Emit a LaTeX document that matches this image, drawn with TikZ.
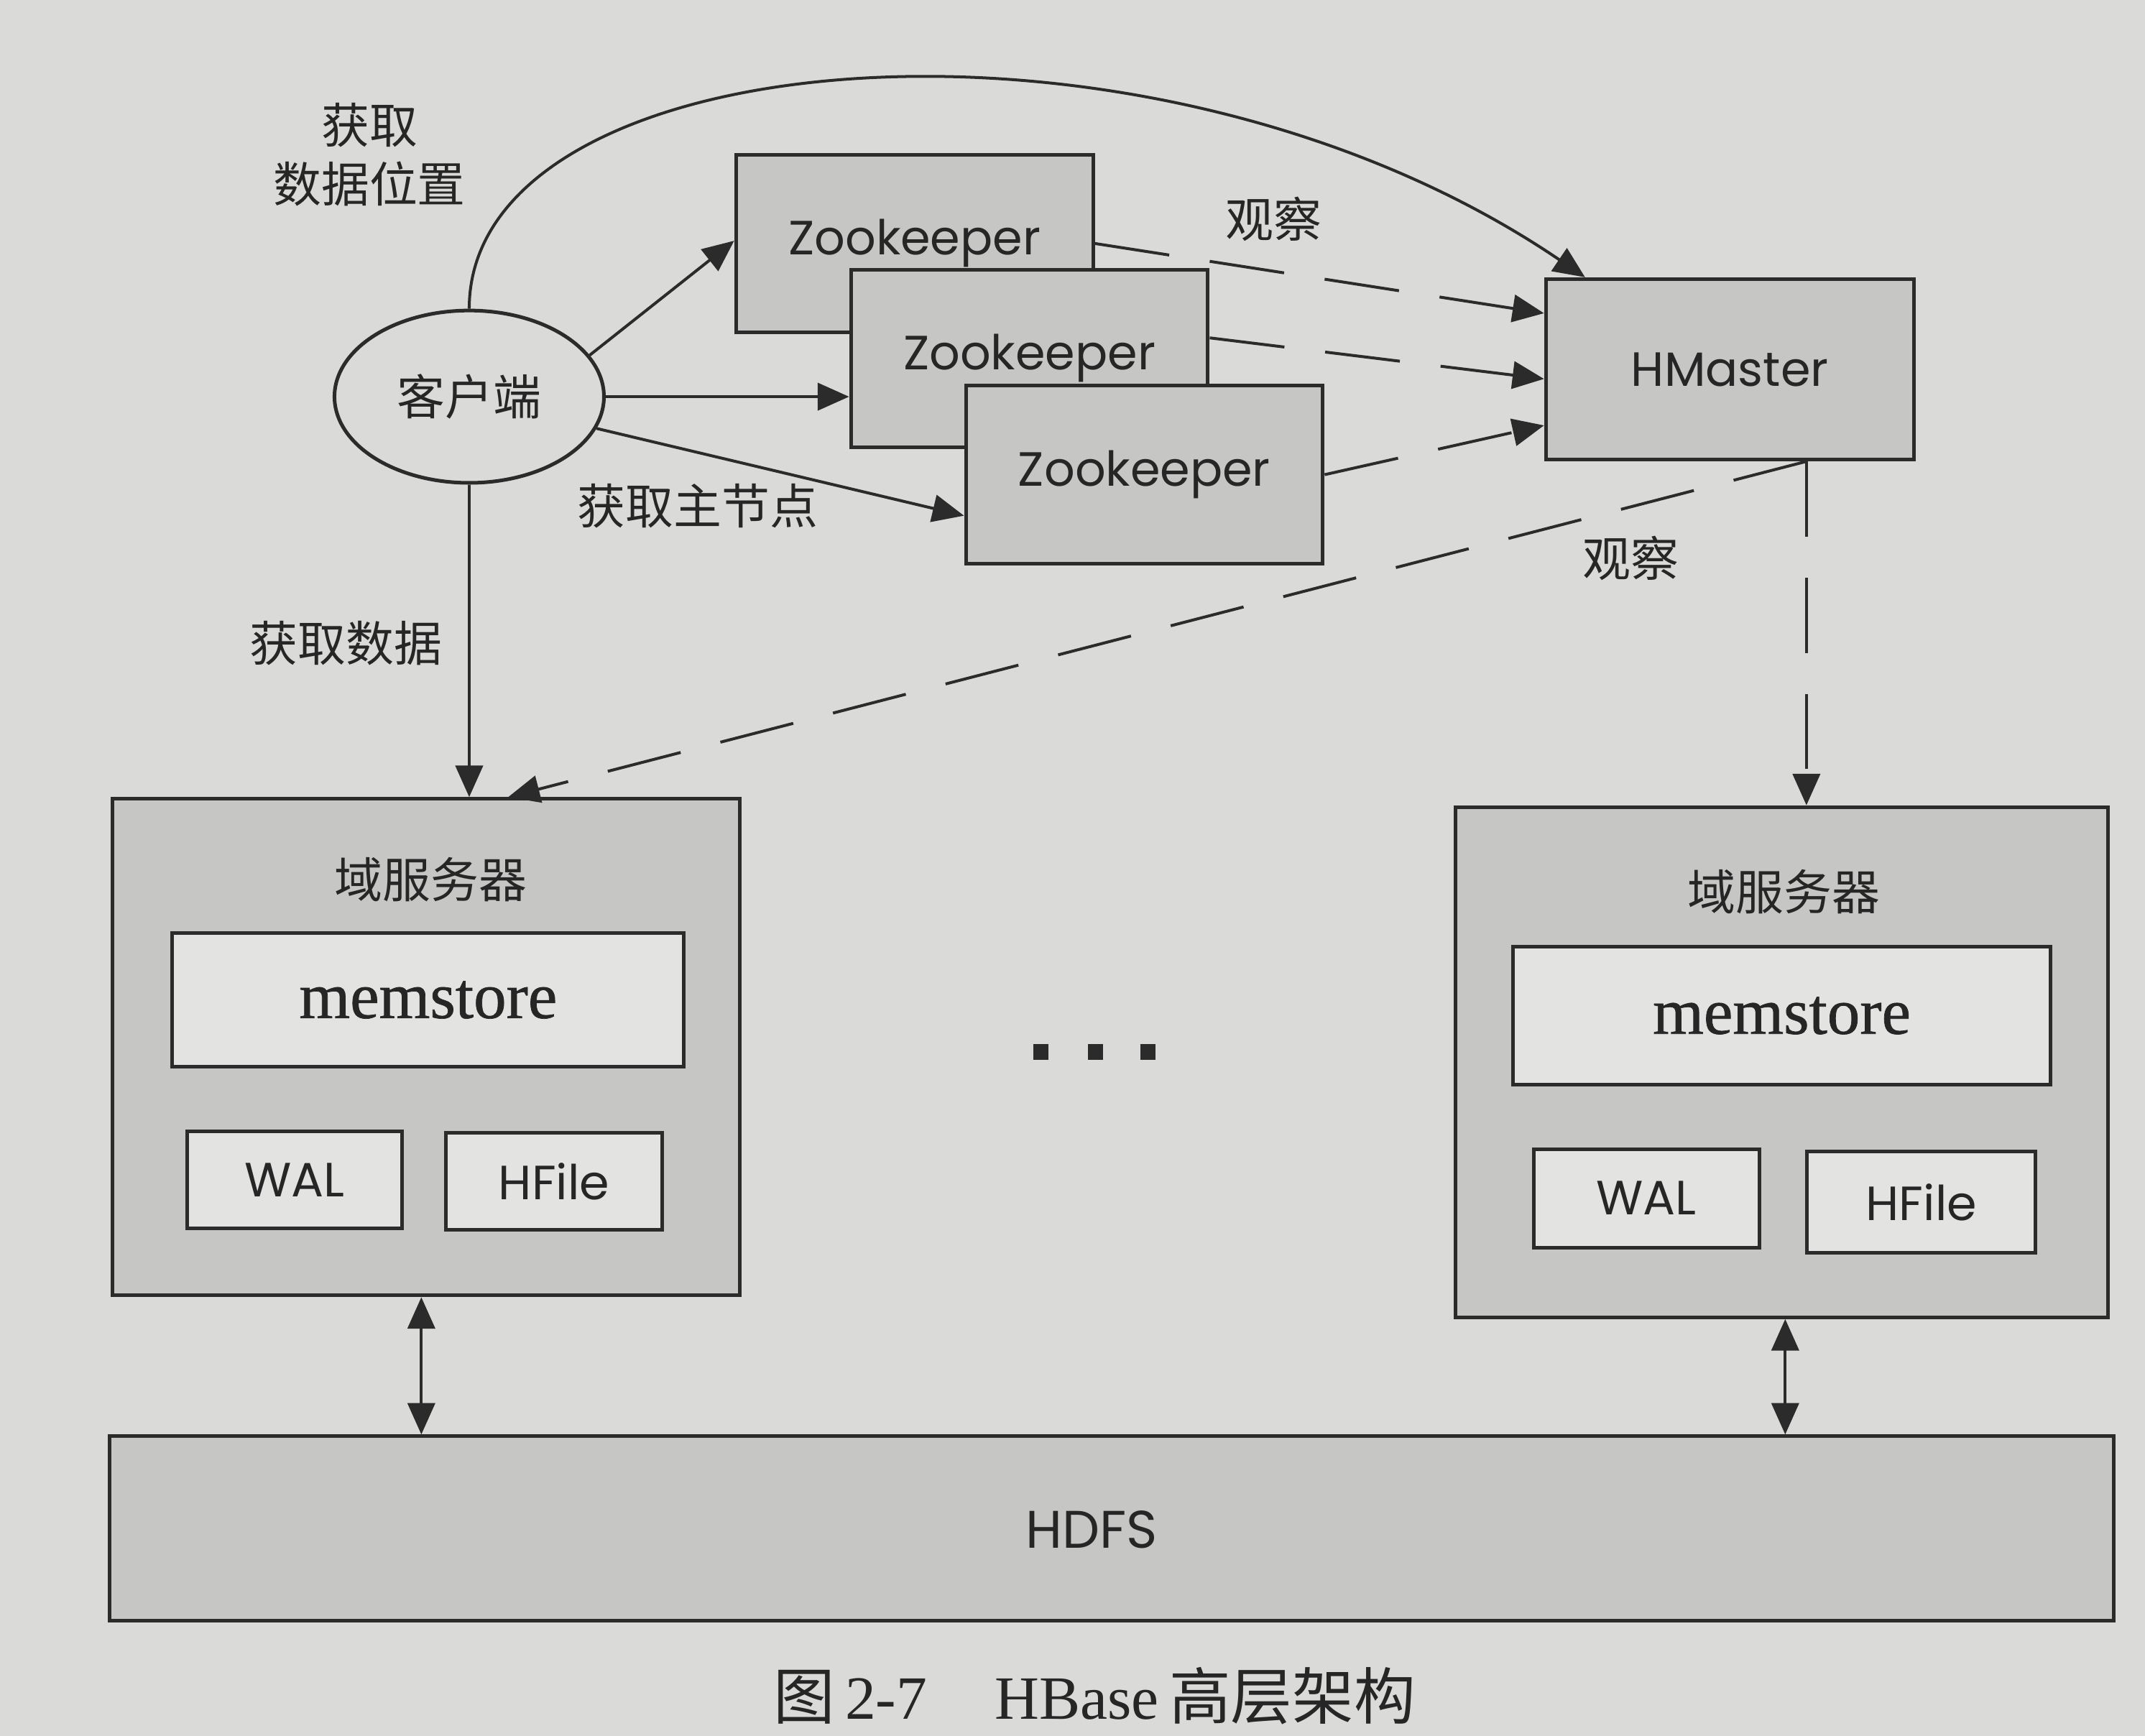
\documentclass[tikz,border=0pt]{standalone}
\usepackage{fontspec}
\setmainfont{Liberation Serif}
\newfontfamily\zh{Noto Sans CJK SC}
\newfontfamily\geo{Poppins}
\newfontfamily\memf[FakeBold=0.8]{Liberation Serif}
\usetikzlibrary{arrows.meta,shapes.geometric,calc}
\definecolor{bgc}{HTML}{DADAD8}
\definecolor{boxc}{HTML}{C6C6C5}
\definecolor{innerc}{HTML}{E3E3E2}
\definecolor{linec}{HTML}{2B2B2B}
\definecolor{txtc}{HTML}{262626}
\tikzset{
  box/.style={draw=linec, fill=boxc, line width=0.75pt, inner sep=0pt, text=txtc},
  inbox/.style={draw=linec, fill=innerc, line width=0.75pt, inner sep=0pt, text=txtc},
  geotxt/.style={font=\geo\fontsize{10}{12}\selectfont},
  zhtxt/.style={font=\zh\fontsize{10}{12.2}\selectfont, text=txtc, inner sep=0pt},
  arr/.style={draw=linec, line width=0.6pt, -{Triangle[length=2.3mm,width=2mm]}},
  dsh/.style={arr, dash pattern=on 5.5mm off 3mm},
  darr/.style={draw=linec, line width=0.6pt, {Triangle[length=2.3mm,width=2mm]}-{Triangle[length=2.3mm,width=2mm]}},
  dotsq/.style={fill=linec, minimum width=1.1mm, minimum height=1.2mm, inner sep=0pt}
}
\begin{document}
\begin{tikzpicture}[x=0.1mm,y=-0.1mm]
\fill[bgc] (0,0) rectangle (1568,1269);
\useasboundingbox (0,0) rectangle (1568,1269);

% client
\node[ellipse, draw=linec, fill=bgc, line width=0.75pt, minimum width=19.7mm, minimum height=12.6mm, inner sep=0pt, zhtxt] (client) at (343,290) {客户端};

% zookeepers
\node[box, geotxt, minimum width=26.1mm, minimum height=13mm] (z1) at (668.5,178) {Zookeeper};
\node[box, geotxt, minimum width=26.1mm, minimum height=13mm] (z2) at (752.5,262) {Zookeeper};
\node[box, geotxt, minimum width=26.1mm, minimum height=13mm] (z3) at (836.5,347) {Zookeeper};

% hmaster
\node[box, geotxt, minimum width=26.9mm, minimum height=13.2mm] (hm) at (1264.5,270) {HMaster};

% region servers
\node[box, minimum width=45.9mm, minimum height=36.3mm] (rs1) at (311.5,765.5) {};
\node[zhtxt] (t1) at (315,643) {域服务器};
\node[inbox, font=\memf\fontsize{13.6}{15}\selectfont, minimum width=37.4mm, minimum height=9.8mm] (m1) at (313,731) {memstore};
\node[inbox, geotxt, minimum width=15.7mm, minimum height=7.1mm] (w1) at (215.5,862.5) {WAL};
\node[inbox, geotxt, minimum width=15.8mm, minimum height=7.1mm] (h1) at (405,863.5) {HFile};

\node[box, minimum width=47.7mm, minimum height=37.3mm] (rs2) at (1302.5,776.5) {};
\node[zhtxt] (t2) at (1304,652) {域服务器};
\node[inbox, font=\memf\fontsize{13.6}{15}\selectfont, minimum width=39.3mm, minimum height=10.1mm] (m2) at (1302.5,742.5) {memstore};
\node[inbox, geotxt, minimum width=16.5mm, minimum height=7.2mm] (w2) at (1203.5,876) {WAL};
\node[inbox, geotxt, minimum width=16.7mm, minimum height=7.4mm] (h2) at (1404.5,879) {HFile};

% dots
\node[dotsq] (d1) at (761,769) {};
\node[dotsq] (d2) at (801,769) {};
\node[dotsq] (d3) at (839,769) {};

% HDFS
\node[box, minimum width=146.5mm, minimum height=13.5mm] (hdfs) at (812.5,1117.5) {};
\node[text=txtc, inner sep=0pt, font=\geo\fontsize{11}{13}\selectfont] (hdfst) at (798,1118) {HDFS};

% labels
\node[zhtxt, align=center] (lpos) at (270,113) {获取\\数据位置};
\node[zhtxt] (lw1) at (931,160) {观察};
\node[zhtxt] (lw2) at (1192,408) {观察};
\node[zhtxt] (lmaster) at (510,370) {获取主节点};
\node[zhtxt] (ldata) at (253,470) {获取数据};

% caption
\node[text=txtc, inner sep=0pt, font=\fontsize{12.8}{15}\selectfont] (cap) at (800,1240) {{\zh 图}\,2-7\hspace{1.1em}HBase\,{\zh 高层架构}};

% connectors
\draw[arr] (client.north) .. controls (343,28) and (840,-14) .. ([xshift=3mm]hm.north west);
\draw[arr] (client.19) -- ([yshift=0.2mm]z1.west);
\draw[arr] (client.east) -- (client.east -| z2.west);
\draw[arr] (client.-14) -- ([yshift=-3mm]z3.west);
\draw[arr] (client.south) -- (client.south |- rs1.north);

\draw[dsh] (z1.east) -- ([yshift=4.1mm]hm.west);
\draw[dsh] ([yshift=1.5mm]z2.east) -- ([yshift=-0.7mm]hm.west);
\draw[dsh] (z3.east) -- ([yshift=-4.1mm]hm.west);

\coordinate (hb) at ([xshift=5.6mm]hm.south);
\draw[dsh] (hb) -- ([xshift=6mm]rs1.north);
\draw[dsh] (hb) -- (hb |- rs2.north);

\draw[darr] ([xshift=-0.35mm]rs1.south) -- ([xshift=-0.35mm]rs1.south |- hdfs.north);
\draw[darr] ([xshift=0.25mm]rs2.south) -- ([xshift=0.25mm]rs2.south |- hdfs.north);
\end{tikzpicture}
\end{document}
